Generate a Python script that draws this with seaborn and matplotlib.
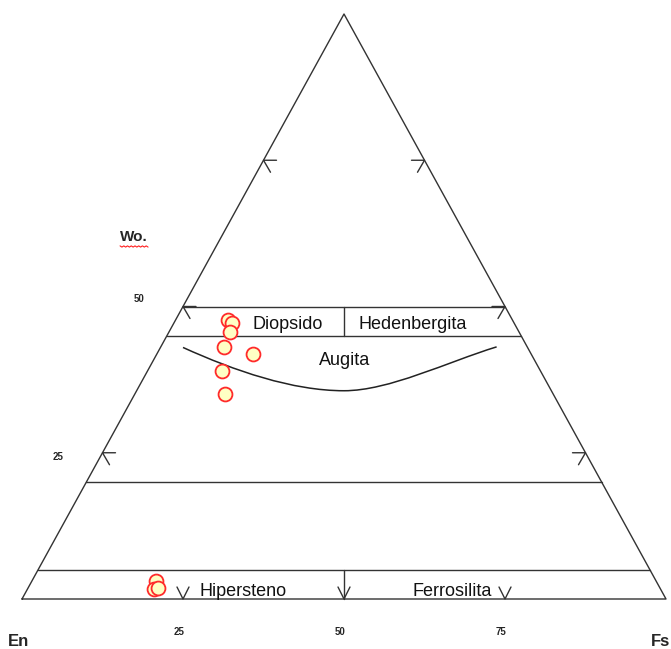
import numpy as np
import pandas as pd
import matplotlib
matplotlib.use("Agg")
import matplotlib.pyplot as plt
from matplotlib.path import Path
from matplotlib.patches import PathPatch
import seaborn as sns

# pyroxene analyses (mol %): Wo and Fs, En = 100 - Wo - Fs
sample_wo = [47.7, 47.1, 45.7, 43.0, 41.8, 38.9, 35.0, 3.1, 1.7, 1.9]
sample_fs = [8.2, 9.0, 9.4, 9.8, 14.9, 11.6, 14.0, 19.3, 19.7, 20.2]

# augita lower boundary (bezier nodes, plot x / Wo)
curve_x = [25.0, 33.0, 42.0, 50.0, 57.0, 66.0, 73.7]
curve_wo = [43.0, 39.0, 35.6, 35.6, 35.6, 40.5, 43.1]

field_lines_wo = [50, 45, 20, 5]
tick_values = [25, 50, 75]

field_names = ["Diopsido", "Hedenbergita", "Augita", "Hipersteno", "Ferrosilita"]
field_wo = [47.0, 47.0, 40.7, 1.2, 1.2]
field_fs = [17.8, 37.2, 29.8, 33.7, 66.2]

LINE = "#333333"


def to_xy(wo, fs):
    wo = np.asarray(wo, dtype=float)
    fs = np.asarray(fs, dtype=float)
    return fs + wo / 2.0, wo


sns.set_theme(style="white")
plt.rcParams["font.family"] = ["Liberation Sans", "DejaVu Sans"]

fig = plt.figure(figsize=(6.71, 6.49), dpi=100)
ax = fig.add_axes([0, 0, 1, 1])
ax.set_xlim(-22 / 6.44, 100 + 5 / 6.44)
ax.set_ylim(-50 / 5.85, 100 + 14 / 5.85)
ax.axis("off")

# one pixel in data units
px = 100 / 644
py = 100 / 585

# outer triangle
tx, ty = to_xy([0, 0, 100, 0], [0, 100, 0, 0])
ax.plot(tx, ty, color=LINE, lw=1.0)

# horizontal field boundaries
for wo in field_lines_wo:
    x0, _ = to_xy(wo, 0)
    x1, _ = to_xy(wo, 100 - wo)
    ax.plot([x0, x1], [wo, wo], color=LINE, lw=1.0)

# En-Fs divisions at 50
xa, _ = to_xy(50, 25)
ax.plot([xa, xa], [45, 50], color=LINE, lw=1.0)
ax.plot([50, 50], [0, 5], color=LINE, lw=1.0)

# tick arrows on the two sides
for t in tick_values:
    xl, _ = to_xy(t, 0)
    xr, _ = to_xy(t, 100 - t)
    ax.plot([xl + 13 * px, xl, xl + 7 * px], [t, t, t - 12 * py], color=LINE, lw=1.0)
    ax.plot([xr - 13 * px, xr, xr - 7 * px], [t, t, t - 12 * py], color=LINE, lw=1.0)
    # V arrows on the base
    ax.plot([t - 6 * px, t, t + 6 * px], [12 * py, 0, 12 * py], color=LINE, lw=1.0)

# augita curve
codes = [Path.MOVETO] + [Path.CURVE4] * (len(curve_x) - 1)
path = Path(np.column_stack([curve_x, curve_wo]), codes)
ax.add_patch(PathPatch(path, facecolor="none", edgecolor="#222222", lw=1.1))

# samples
sx, sy = to_xy(sample_wo, sample_fs)
pts = pd.DataFrame({"x": sx, "y": sy})
sns.scatterplot(data=pts, x="x", y="y", s=100, color="#FFFFC4",
                edgecolor="#FF2A2A", linewidth=1.3, zorder=5, ax=ax)

# field names
for name, wo, fs in zip(field_names, field_wo, field_fs):
    x, y = to_xy(wo, fs)
    ax.text(x, y, name, fontsize=13, ha="center", va="center", color="#111111")

# scale labels
for t in tick_values:
    ax.text(t - 4 * px, -33 * py, str(t), fontsize=7, fontweight="bold",
            ha="center", va="center")
for t, dy in zip([25, 50], [-4, 7]):
    xl, _ = to_xy(t, 0)
    ax.text(xl - 44 * px, t + dy * py, str(t), fontsize=7, fontweight="bold",
            ha="center", va="center")

# corner labels
wx, wy = 17.4, 61.9
ax.text(wx, wy, "Wo.", fontsize=11, fontweight="bold", ha="center", va="center")
ux = np.linspace(wx - 14 * px, wx + 14 * px, 16)
uy = wy - 9 * py + np.tile([0, -1.2 * py], 8)
ax.plot(ux, uy, color="#FF2020", lw=0.8)
ax.text(-0.5, -42 * py, "En", fontsize=12, fontweight="bold", ha="center", va="center")
ax.text(99.1, -42 * py, "Fs", fontsize=12, fontweight="bold", ha="center", va="center")

ax.set_xlabel("")
ax.set_ylabel("")
fig.savefig("out.png", dpi=100, facecolor="white")
